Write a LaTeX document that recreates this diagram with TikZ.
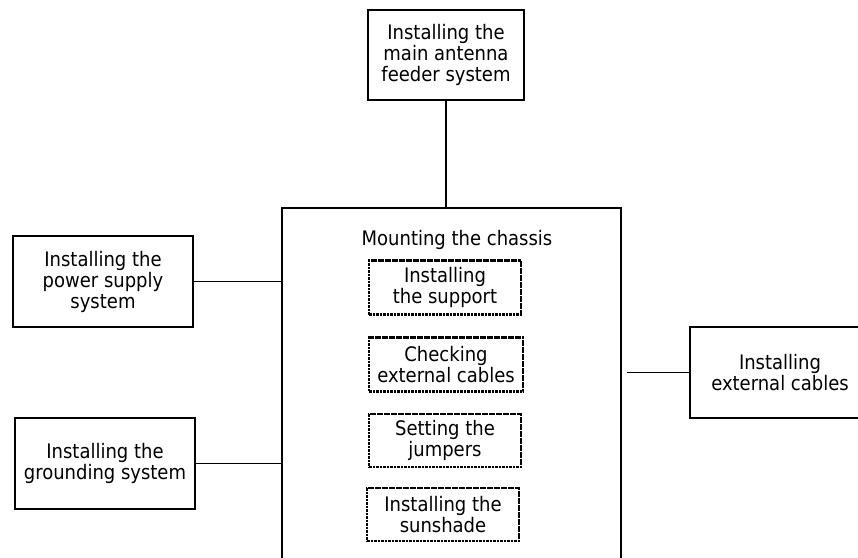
\documentclass[tikz,border=0pt]{standalone}
\usepackage{fontspec}
\setmainfont{DejaVu Sans Condensed}
\begin{document}
\begin{tikzpicture}[x=1pt,y=-1pt,
  every node/.style={font=\fontsize{20}{21}\selectfont, align=center, inner sep=0pt},
  taskbox/.style={draw, line width=1.3pt, minimum width=180pt, minimum height=91pt},
  substep/.style={draw, line width=2.2pt, dash pattern=on 2.6pt off 0.9pt, minimum height=54pt},
  link/.style={line width=1.3pt}]
  \useasboundingbox (0,0) rectangle (858,557);
  \clip (0,0) rectangle (858,557);

  % outer tasks
  \node[taskbox, minimum width=156pt, minimum height=90pt] (antenna) at (446,55)
    {Installing the\\main antenna\\feeder system};
  \node[taskbox] (power) at (103,281.5) {Installing the\\power supply\\system};
  \node[taskbox] (ground) at (105,463.5) {Installing the\\grounding system};
  \node[taskbox] (cables) at (780,372.5) {Installing\\external cables};

  % chassis block with its sub-steps
  \node[draw, line width=1.3pt, minimum width=339pt, minimum height=356pt] (chassis) at (451.5,386) {};
  \node (title) at (457,240) {Mounting the chassis};
  \node[substep, minimum width=152pt] (support) at (445,287.5) {Installing\\the support};
  \node[substep, minimum width=154pt] (check) at (446,364.5) {Checking\\external cables};
  \node[substep, minimum width=152pt, minimum height=53pt] (jumpers) at (445,440.5) {Setting the\\jumpers};
  \node[substep, minimum width=152pt, minimum height=53pt] (sunshade) at (443,514.5) {Installing the\\sunshade};

  % connectors
  \draw[link] (antenna.south) -- (antenna.south |- chassis.north);
  \draw[link] (power.east) -- (power.east -| chassis.west);
  \draw[link] (ground.east) -- (ground.east -| chassis.west);
  \draw[link] ([xshift=5pt]chassis.east |- cables.west) -- (cables.west);
\end{tikzpicture}
\end{document}
